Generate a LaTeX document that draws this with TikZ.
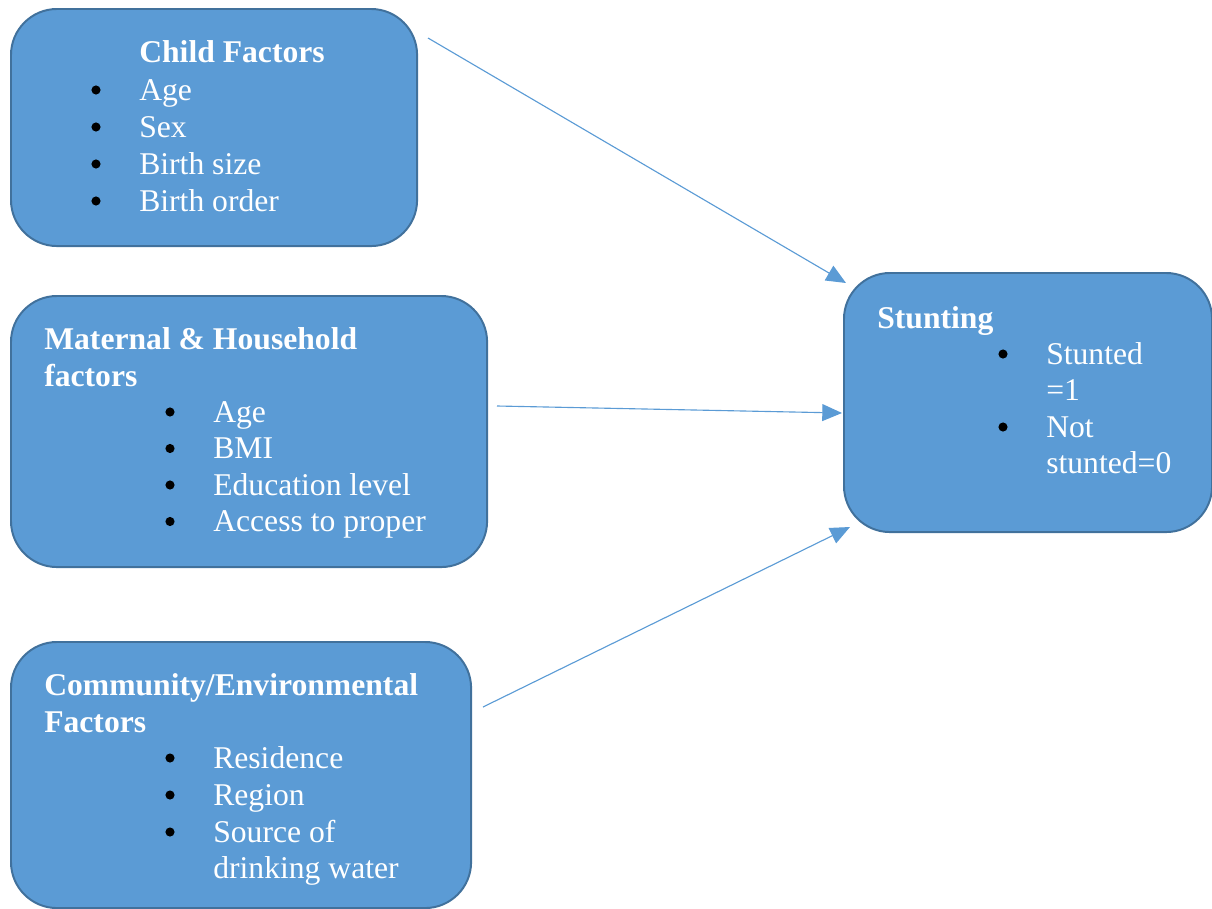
\documentclass[tikz,border=0pt]{standalone}
\usepackage{fontspec}
\setmainfont{Liberation Serif}
\usetikzlibrary{arrows.meta}
\tikzset{>={Triangle[length=14pt,width=12pt]}}
\definecolor{boxfill}{HTML}{5B9BD5}
\definecolor{boxline}{HTML}{41719C}
\newcommand{\boxfont}{\fontsize{22.5}{26.3}\selectfont}
\tikzset{
  factor/.style={draw=boxline, fill=boxfill, line width=1.4pt, rounded corners=1.15cm,
                 anchor=north west, inner sep=0pt},
  head/.style={anchor=base west, inner sep=0pt, text=white, font=\boxfont\bfseries},
  item/.style={anchor=base west, inner sep=0pt, text=white, font=\boxfont},
  bul/.style={circle, fill=black, inner sep=0pt, minimum size=6.5pt},
  link/.style={->, boxfill, line width=0.8pt}
}

\begin{document}
\begin{tikzpicture}[x=0.025cm, y=-0.025cm]
  \useasboundingbox (0,0) rectangle (1212,909);
  % boxes
  \node[factor, minimum width=10.15cm, minimum height=5.925cm] (child) at (10,8) {};
  \node[factor, minimum width=11.9cm,  minimum height=6.775cm] (mat)   at (10,295) {};
  \node[factor, minimum width=11.5cm,  minimum height=6.65cm]  (comm)  at (10,641) {};
  \node[factor, minimum width=9.2cm,   minimum height=6.475cm] (stunt) at (843,272) {};
  % child factors
  \node[head] (child-head) at (139,62) {Child Factors};
  \foreach \txt [count=\k] in {Age, Sex, Birth size, Birth order} {
    \node[bul]  (child-b\k) at (96,53+37*\k) {};
    \node[item] (child-\k)  at (139,63+37*\k) {\txt};
  }
  % maternal and household factors
  \node[head] (mat-head1) at (44,349) {Maternal \& Household};
  \node[head] (mat-head2) at (44,386) {factors};
  \foreach \txt [count=\k] in {Age, BMI, Education level, Access to proper} {
    \node[bul]  (mat-b\k) at (170,375.5+36.5*\k) {};
    \node[item] (mat-\k)  at (213,385.5+36.5*\k) {\txt};
  }
  % community factors
  \node[head] (comm-head1) at (44,695) {Community/Environmental};
  \node[head] (comm-head2) at (44,732) {Factors};
  \foreach \txt [count=\k] in {Residence, Region, Source of} {
    \node[bul]  (comm-b\k) at (170,721+37*\k) {};
    \node[item] (comm-\k)  at (213,731+37*\k) {\txt};
  }
  \node[item] (comm-4) at (213,878) {drinking water};
  % outcome
  \node[head] (stunt-head) at (877,328) {Stunting};
  \node[bul]  (stunt-b1) at (1003,354) {};
  \node[item] (stunt-1)  at (1046,364) {Stunted};
  \node[item] (stunt-1b) at (1046,400) {=1};
  \node[bul]  (stunt-b2) at (1003,427) {};
  \node[item] (stunt-2)  at (1046,437) {Not};
  \node[item] (stunt-2b) at (1046,473) {stunted=0};
  % arrows
  \coordinate (child-out) at (428,38);
  \coordinate (mat-out)   at (497,406);
  \coordinate (comm-out)  at (483,707);
  \coordinate (stunt-in1) at (846,283);
  \coordinate (stunt-in2) at (842,413);
  \coordinate (stunt-in3) at (850,527);
  \draw[link] (child-out) -- (stunt-in1);
  \draw[link] (mat-out)   -- (stunt-in2);
  \draw[link] (comm-out)  -- (stunt-in3);
\end{tikzpicture}
\end{document}
